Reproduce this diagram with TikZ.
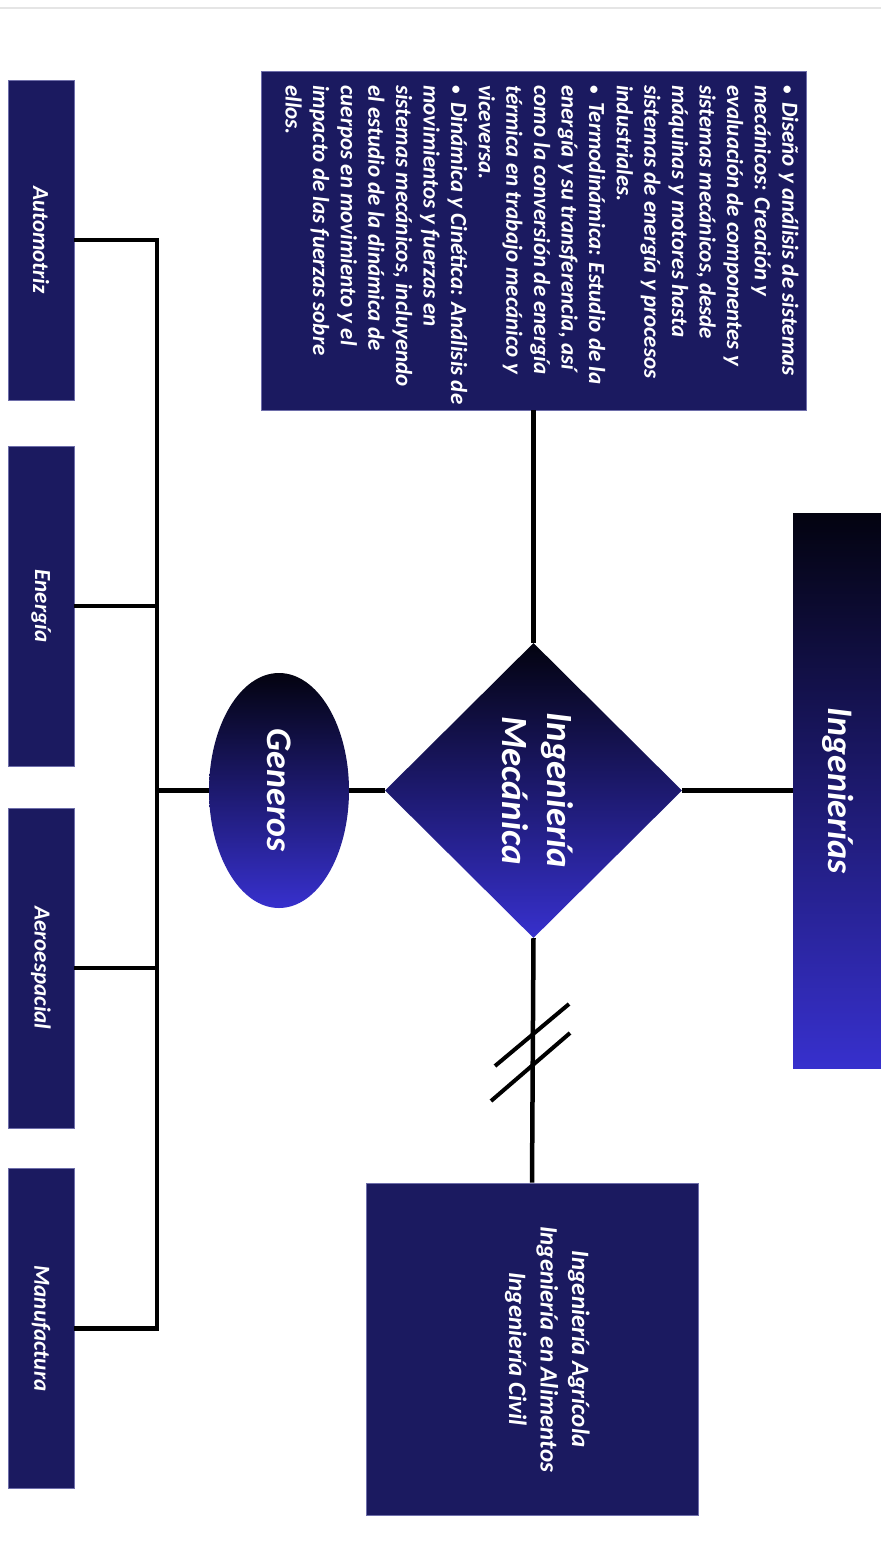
\documentclass[tikz,border=0pt]{standalone}
\usepackage{fontspec}
\usepackage{graphicx}
\usetikzlibrary{shapes.geometric}
\newfontfamily\carl{Carlito}
\definecolor{navy}{RGB}{27,26,96}
\definecolor{navyedge}{RGB}{110,110,170}
\definecolor{gtop}{RGB}{3,3,16}
\definecolor{gbot}{RGB}{55,48,205}
\newcommand{\bitem}{\par\hangindent=17pt\hangafter=0\noindent\llap{\makebox[17pt][l]{\upshape\scalebox{0.75}{\textbullet}}}}
\begin{document}
\begin{tikzpicture}[x=1pt,y=-1pt,
  conn/.style={line width=4.5pt, black},
  slash/.style={line width=4pt, black},
  navybox/.style={rectangle, fill=navy, draw=navyedge, line width=0.7pt, inner sep=0pt, text=white, font=\carl\bfseries\itshape},
  gradfill/.style={top color=gtop, bottom color=gbot, draw=none, inner sep=0pt, text=white, font=\carl\bfseries\itshape},
  catbox/.style={navybox, minimum width=66pt, minimum height=320pt}]
\useasboundingbox (0,0) rectangle (881,1564);
\fill[white] (0,0) rectangle (881,1564);
\draw[gray!20, line width=1.5pt] (0,8) -- (881,8);

% main nodes
\node[gradfill, minimum width=90pt, minimum height=555pt] (ing) at (838,790.5)
  {\rotatebox{-90}{\fontsize{36}{40}\selectfont Ingenierías}};
\node[diamond, gradfill, aspect=1, minimum width=297pt, minimum height=295pt] (mec) at (533.5,790.5)
  {\rotatebox{-90}{\fontsize{37}{45}\selectfont\begin{tabular}{@{}c@{}}Ingeniería\\Mecánica\end{tabular}}};
\node[ellipse, gradfill, minimum width=140pt, minimum height=235pt] (gen) at (279,790.5)
  {\rotatebox{-90}{\fontsize{36}{40}\selectfont Generos}};

% description box
\node[navybox, minimum width=545pt, minimum height=339pt] (desc) at (533.5,240.5) {};
\node[anchor=north, inner sep=0pt, text=white, font=\carl\bfseries\itshape] (desctxt) at (542,85)
  {\rotatebox{-90}{\parbox{330pt}{\fontsize{23}{27.6}\selectfont\raggedright
  \bitem Diseño y análisis de sistemas\\ mecánicos: Creación y\\ evaluación de componentes y\\ sistemas mecánicos, desde\\ máquinas y motores hasta\\ sistemas de energía y procesos\\ industriales.
  \bitem Termodinámica: Estudio de la\\ energía y su transferencia, así\\ como la conversión de energía\\ térmica en trabajo mecánico y\\ viceversa.
  \bitem Dinámica y Cinética: Análisis de\\ movimientos y fuerzas en\\ sistemas mecánicos, incluyendo\\ el estudio de la dinámica de\\ cuerpos en movimiento y el\\ impacto de las fuerzas sobre\\ ellos.\par}}};

% other engineerings
\node[navybox, minimum width=332pt, minimum height=332pt] (otras) at (532,1349)
  {\hspace*{30pt}\rotatebox{-90}{\fontsize{25}{31.5}\selectfont\begin{tabular}{@{}c@{}}Ingeniería Agrícola\\Ingeniería en Alimentos\\Ingeniería Civil\end{tabular}}};

% categories
\node[catbox] (auto) at (41,240) {\rotatebox{-90}{\fontsize{23}{26}\selectfont Automotriz}};
\node[catbox] (ener) at (41,606) {\rotatebox{-90}{\fontsize{23}{26}\selectfont Energía}};
\node[catbox] (aero) at (41,968) {\rotatebox{-90}{\fontsize{23}{26}\selectfont Aeroespacial}};
\node[catbox] (manu) at (41,1328.5) {\rotatebox{-90}{\fontsize{23}{26}\selectfont Manufactura}};

\coordinate (bustop) at (157,240);
\coordinate (busbot) at (157,1328.5);

% connectors
\draw[conn] (desc.south) -- (mec.north);
\draw[conn] (mec.east) -- (ing.west);
\draw[conn] (mec.west) -- (gen.east);
\draw[conn] (mec.south) -- (otras.north);
\draw[conn] (gen.west) -- (gen.west -| bustop);
\draw[conn, line join=miter] (auto.east) -- (bustop) -- (busbot) -- (manu.east);
\draw[conn] (ener.east) -- (ener.east -| bustop);
\draw[conn] (aero.east) -- (aero.east -| bustop);

% break marks
\draw[slash] (495,1066) -- (569,1004);
\draw[slash] (491,1101) -- (570,1033);
\end{tikzpicture}
\end{document}
